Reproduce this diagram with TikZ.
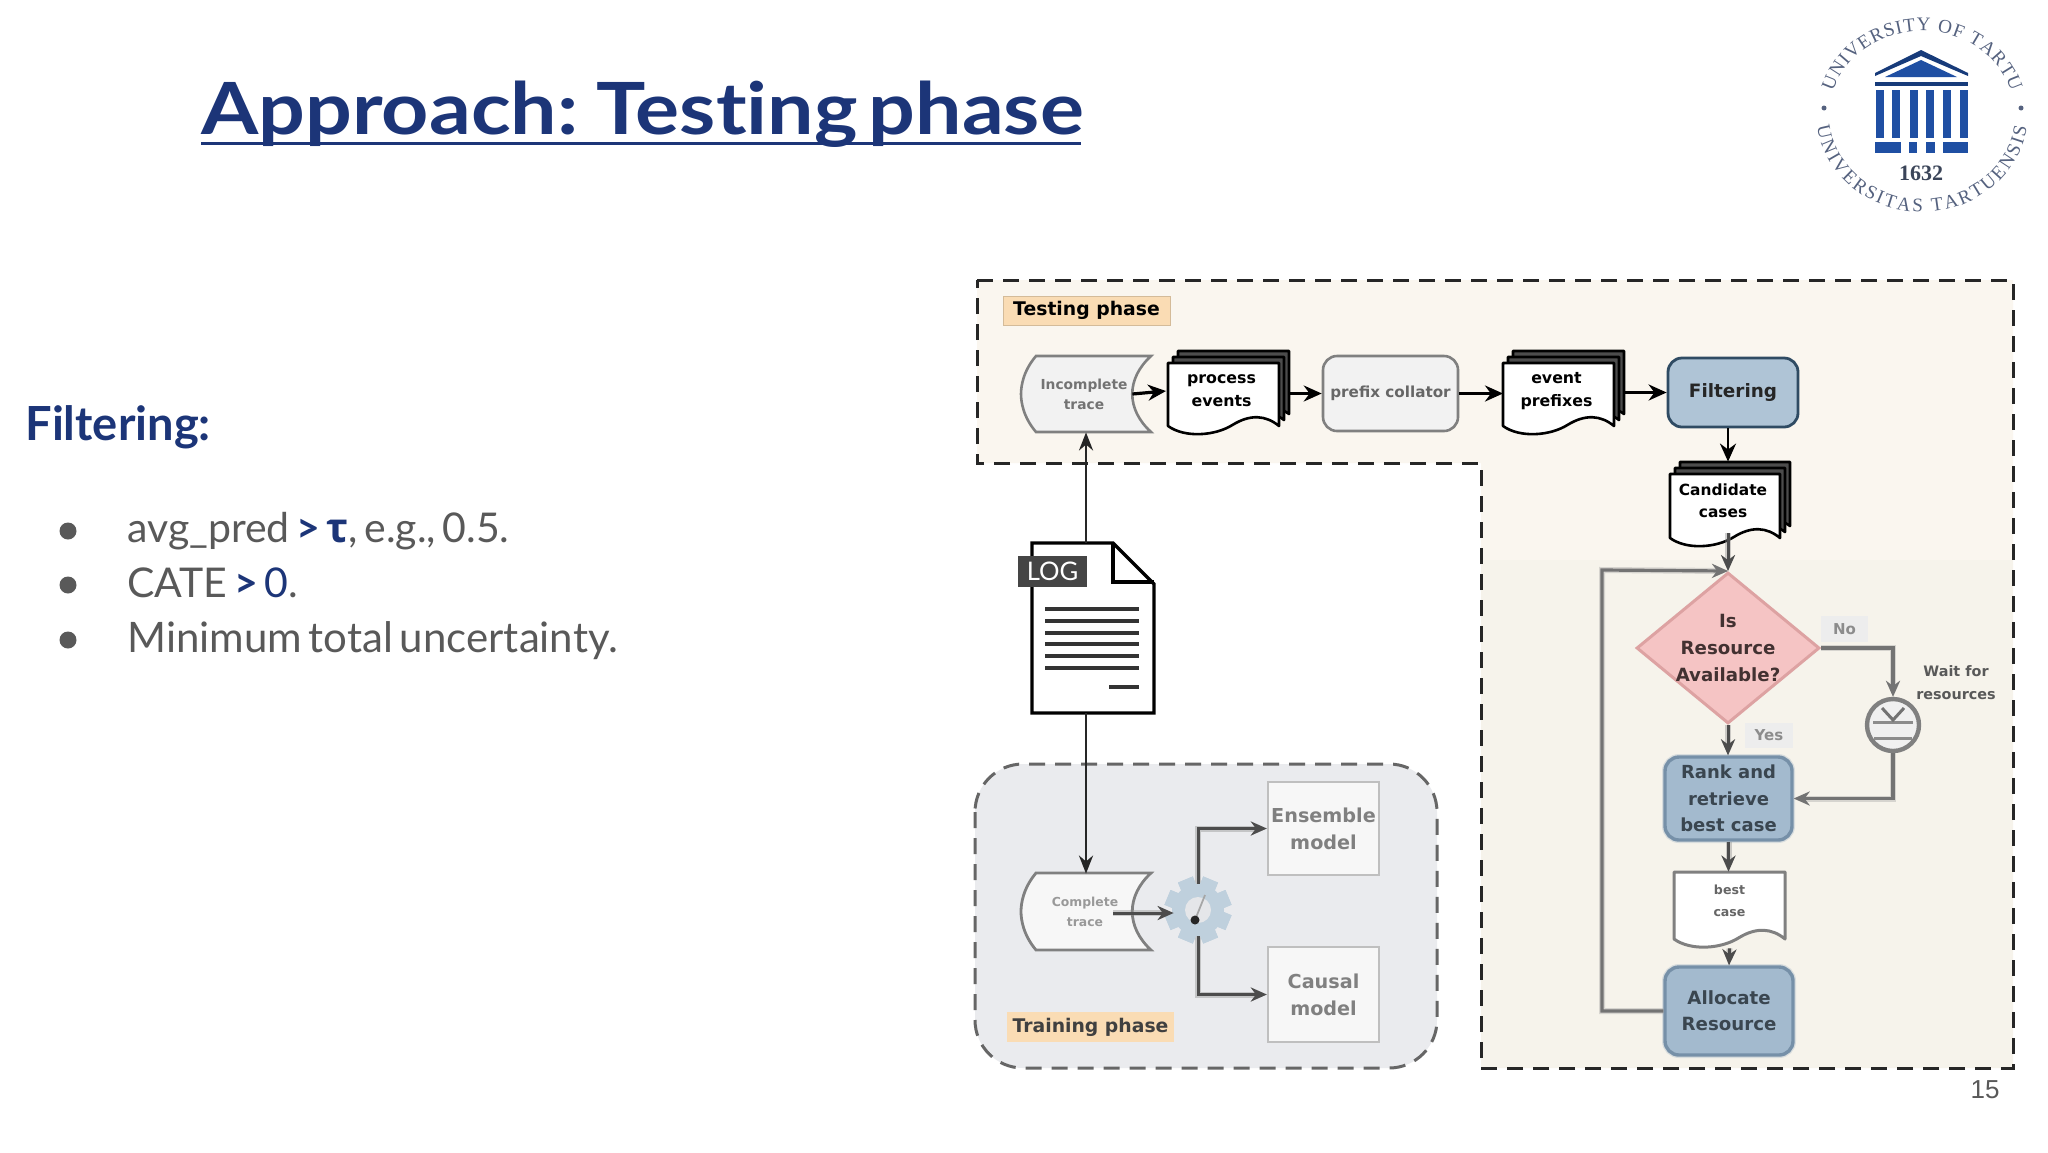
\documentclass[tikz,border=0pt]{standalone}
\usepackage{fontspec}
\setmainfont{DejaVu Sans}
\newfontfamily\latof{Lato}[WordSpace=0.62]
\newfontfamily\titlef{Lato}[FakeStretch=1.145,WordSpace=0.55,Ligatures=NoCommon]
\newfontfamily\greekf{Open Sans}
\newfontfamily\liber{Liberation Sans}
\newfontfamily\logof{Liberation Serif}
\usetikzlibrary{arrows.meta,decorations.text,shapes.geometric,calc}
\definecolor{navy}{HTML}{1C3578}
\definecolor{bodyg}{HTML}{595959}
\definecolor{regA}{HTML}{FAF6EF}
\definecolor{regB}{HTML}{F6F3EB}
\definecolor{trainbg}{HTML}{EAEBEE}
\definecolor{lab}{HTML}{FADCB4}
\definecolor{bluebox}{HTML}{AFC4D6}
\definecolor{gearc}{HTML}{BFD0DD}
\definecolor{blueboxb}{HTML}{2F4B63}
\definecolor{softblue}{HTML}{A3BACE}
\definecolor{softblueb}{HTML}{7690A8}
\definecolor{softtxt}{HTML}{3A4650}
\definecolor{pinkf}{HTML}{F5C4C4}
\definecolor{pinkb}{HTML}{DDA2A2}
\definecolor{logob}{HTML}{1F4FA3}
\definecolor{logot}{HTML}{55627F}
\newcommand{\fs}[1]{\fontsize{#1}{#1}\selectfont}
\newcommand{\fsb}[2]{\fontsize{#1}{#2}\selectfont}
\tikzset{
  txtnode/.style={inner sep=0pt,align=center,font=\bfseries\fsb{7.9}{11.5}},
  flow/.style={draw=black,line width=1.6pt,-{Stealth[length=9pt,width=8pt]}},
  thin flow/.style={draw=black!85,line width=1.4pt,-{Stealth[length=9pt,width=7pt]}},
  soft/.style={draw=black!70,line width=1.5pt,preaction={draw=black!45,line width=3pt,opacity=.4},-{Stealth[length=8pt,width=7pt]}},
  softg/.style={draw=black!55,line width=1.6pt,preaction={draw=black!35,line width=3pt,opacity=.4}},
  softgarrow/.style={softg,-{Stealth[length=8pt,width=7pt]}},
  region/.style={draw=black!85,line width=1.5pt,dash pattern=on 8pt off 5pt},
  docf/.style={draw=black,fill=white,line width=1.3pt,line join=round},
  blurbox/.style={draw=softblueb,fill=softblue,rounded corners=7pt,line width=1.7pt,preaction={draw=softblueb!60,line width=3pt,opacity=.4}},
  label box/.style={inner sep=0pt,fill=lab,draw=lab!85!black,line width=.3pt},
  bodyt/.style={anchor=base west,inner sep=0pt,text=bodyg,font=\latof\fs{20.5}},
  bul/.style={circle,fill=bodyg,inner sep=0pt,minimum size=8.5pt},
  pale/.style={inner sep=0pt,fill=black!7,text=black!45,font=\bfseries\fs{7.5}},
  model/.style={draw=black!25,fill=black!3,line width=1.2pt,minimum width=55.5pt,inner sep=0pt,align=center,text=black!50,font=\bfseries\fsb{9.6}{13.5}},
}
% wave-bottom document: x1,y1,x2,y2 (y2 = lowest point)
\newcommand{\wavepath}[4]{(#1,#2) -- (#3,#2) -- (#3,{#4-9})
  .. controls ({#3-0.12*(#3-#1)},{#4-20}) and ({#3-0.26*(#3-#1)},{#4-21}) .. ({#3-0.42*(#3-#1)},{#4-10})
  .. controls ({#3-0.58*(#3-#1)},{#4+1}) and ({#3-0.85*(#3-#1)},{#4+3}) .. (#1,{#4-9}) -- cycle}
\newcommand{\stackdoc}[4]{%
  \draw[docf,fill=black!70] \wavepath{#1+10}{#2-12}{#3+10}{#4-12};
  \draw[docf,fill=black!70] \wavepath{#1+5}{#2-6}{#3+5}{#4-6};
  \draw[docf] \wavepath{#1}{#2}{#3}{#4};}
\newcommand{\tapepath}[4]{({#1+15},#2) -- (#3,#2)
  .. controls ({#3-25},{#2+0.3*(#4-#2)}) and ({#3-25},{#2+0.7*(#4-#2)}) .. (#3,#4)
  -- ({#1+15},#4) .. controls ({#1+2},{#2+0.8*(#4-#2)}) and (#1,{#2+0.6*(#4-#2)}) .. (#1,{0.5*(#2+#4)})
  .. controls (#1,{#2+0.4*(#4-#2)}) and ({#1+2},{#2+0.2*(#4-#2)}) .. cycle}
\begin{document}
\begin{tikzpicture}[x=0.5pt,y=-0.5pt]
\useasboundingbox (0,0) rectangle (2048,1152);
\fill[white] (0,0) rectangle (2048,1152);

% title
\node[anchor=base west,inner sep=0pt,text=navy,font=\titlef\bfseries\fs{36}] (title) at (201,134.5) {Approach: Testing phase};
\draw[navy,line width=1.5pt] (title.base west |- 0,143) -- (1081,143);

% left text
\node[anchor=base west,inner sep=0pt,text=navy,font=\latof\bfseries\fs{23.5}] (filt head) at (25,440) {Filtering:};
\node[bul] (b1) at (68,531) {};
\node[bul] (b2) at (68,585) {};
\node[bul] (b3) at (68,640) {};
\node[bodyt] (t1) at (127,542.5) {avg\_pred \textcolor{navy}{\textbf{>} {\greekf\bfseries τ}}, e.g., 0.5.};
\node[bodyt] (t2) at (127,597.5) {CATE \textcolor{navy}{\textbf{>} 0}.};
\node[bodyt,font=\latof\fs{21}] (t3) at (127,652.5) {Minimum total uncertainty.};

% page number
\node[anchor=base,inner sep=0pt,text=black!65,font=\liber\fs{13}] (pg) at (1985,1098) {15};

% regions
\path[fill=regA] (977,280) -- (2013,280) -- (2013,1068) -- (1481,1068) -- (1481,463) -- (977,463) -- cycle;
\fill[regB] (1481,560) rectangle (2013,1068);
\draw[region] (977,280) -- (2013,280) -- (2013,1068) -- (1481,1068) -- (1481,463) -- (977,463) -- cycle;
\draw[region,draw=black!60,fill=trainbg,rounded corners=24pt] (975,764) rectangle (1437,1068);

\node[label box,minimum width=83.5pt,minimum height=14.5pt,font=\bfseries\fs{9.4}] (testing) at (1086.5,310.5) {Testing phase};
\node[label box,minimum width=83.5pt,minimum height=15pt,font=\bfseries\fs{9.4},text=black!75,draw=none] (training) at (1090.5,1027) {Training phase};

% top row shapes
\draw[draw=black!50,fill=black!5,line width=1.3pt] \tapepath{1021}{356}{1151}{432};
\node[txtnode,font=\bfseries\fsb{6.9}{10},text=black!55,minimum width=46pt,minimum height=38pt] (it) at (1084,394) {Incomplete\\trace};
\stackdoc{1168}{363}{1279}{435}
\node[txtnode,minimum width=55.5pt,minimum height=36pt] (pe) at (1221.5,391) {process\\events};
\node[draw=black!50,fill=black!5,rounded corners=7pt,line width=1.3pt,minimum width=67.5pt,minimum height=37.5pt,inner sep=0pt,text=black!60,font=\bfseries\fs{7.6}] (pc) at (1390.5,393.5) {prefix collator};
\stackdoc{1503}{363}{1614}{435}
\node[txtnode,minimum width=55.5pt,minimum height=36pt] (ep) at (1556.5,391) {event\\prefixes};
\node[draw=blueboxb,fill=bluebox,rounded corners=7pt,line width=1.4pt,minimum width=65pt,minimum height=34.5pt,inner sep=0pt,font=\bfseries\fs{9.2},text=black!85] (filt) at (1733,392.5) {Filtering};
\stackdoc{1670}{474}{1780}{547}
\node[txtnode,font=\bfseries\fsb{7.7}{11},minimum width=55pt,minimum height=36pt] (cc) at (1723,501) {Candidate\\cases};

% log document
\draw[draw=black,fill=white,line width=1.7pt,line join=miter] (1032,543) -- (1113,543) -- (1154,584) -- (1154,713) -- (1032,713) -- cycle;
\draw[draw=black,line width=1.7pt] (1113,543) -- (1113,582) -- (1154,582);
\node[inner sep=0pt,fill=black!73,minimum width=34.5pt,minimum height=15.5pt,text=white,font=\latof\fs{12.8}] (log) at (1052.5,571.5) {LOG};
\coordinate (logtop) at (1086,543);
\coordinate (logbot) at (1086,713);
\foreach \yy in {609,621,633,644,656,668}{\draw[black!80,line width=1.8pt] (1045,\yy) -- (1139,\yy);}
\draw[black!80,line width=1.8pt] (1109,687) -- (1139,687);

% training parts
\draw[draw=black!50,fill=black!3,line width=1.4pt] \tapepath{1021}{873}{1151}{950};
\node[txtnode,font=\bfseries\fsb{6.2}{10},text=black!40,minimum width=46pt,minimum height=38pt] (ct) at (1085,912) {Complete\\trace};
\node[model,minimum height=46.5pt] (ens) at (1323.5,828.5) {Ensemble\\model};
\node[model,minimum height=47.5pt] (cau) at (1323.5,994.5) {Causal\\model};
\node[circle,inner sep=0pt,minimum size=24pt] (gear) at (1198,910) {};
\draw[soft] (gear.north) -- (gear.north |- ens.west) -- (ens.west);
\draw[soft] (gear.south) -- (gear.south |- cau.west) -- (cau.west);
\foreach \a in {0,45,...,315}{\fill[gearc,rotate around={\a+22.5:(1198,910)}] (1190,877) rectangle (1206,943);}
\fill[gearc] (1198,910) circle[radius=26];
\fill[black!2!trainbg] (1198,910) circle[radius=13];
\draw[soft] ([xshift=-9pt]ct.east |- 0,913) -- (gear.west |- 0,913);
\draw[black!35,line width=.9pt] (1195,920) -- (1205,895);
\fill[black!85] (1195,920) circle[radius=4.5];

% connectors top
\draw[thin flow] (logtop) -- (logtop |- it.south);
\draw[thin flow] (logbot) -- (logbot |- ct.north);
\draw[flow] ([xshift=1pt]it.east) -- (pe.west -| 1166,0);
\draw[flow] (1290,0 |- pc.west) -- (pc.west);
\draw[flow] (pc.east) -- (1503,0 |- pc.east);
\draw[flow] (1624,0 |- filt.west) -- (filt.west);

% decision flow
\node[diamond,aspect=1.21,draw=pinkb,fill=pinkf,line width=1.5pt,minimum width=91.5pt,minimum height=75.5pt,inner sep=0pt] (dia) at (1728,648) {};
\node[inner sep=0pt,align=center,text=black!70!pinkb,font=\bfseries\fsb{9.1}{13.4}] (diat) at (dia.center) {Is\\Resource\\Available?};
\draw[flow,line width=1.3pt] (filt.south -| dia.north) -- ([yshift=1.5pt]cc.north -| dia.north);
\node[pale,minimum width=23.5pt,minimum height=13pt] (no) at (1844.5,629) {No};
\node[pale,minimum width=24pt,minimum height=12.5pt] (yes) at (1769,735.5) {Yes};
\node[inner sep=0pt,align=center,text=black!65,font=\bfseries\fsb{7.2}{11.5}] (wait) at (1956,683) {Wait for\\resources};
\node[circle,draw=black!50,fill=black!6,line width=2.2pt,minimum size=26pt,inner sep=0pt] (clock) at (1893,725) {};
\draw[black!45,line width=1.5pt] (1873,722) -- (1913,722);
\draw[black!45,line width=1.5pt] (1874,738) -- (1912,738);
\draw[black!55,line width=1.5pt] (1882,708) -- (1893,720) -- (1904,708);
\node[blurbox,minimum width=63.5pt,minimum height=41.5pt,inner sep=0pt,align=center,text=softtxt,font=\bfseries\fsb{9}{13.3}] (rank) at (1728.5,798.5) {Rank and\\retrieve\\best case};
\draw[draw=black!50,fill=white,line width=1.5pt,line join=round] \wavepath{1674}{872}{1785}{948};
\node[inner sep=0pt,minimum width=55.5pt,minimum height=38pt,align=center,text=black!60,font=\bfseries\fsb{6.3}{11}] (bc) at (1729.5,901) {best\\case};
\node[blurbox,minimum width=64pt,minimum height=44pt,inner sep=0pt,align=center,text=softtxt,font=\bfseries\fsb{9.1}{13}] (alloc) at (1729,1011) {Allocate\\Resource};
\coordinate (fbc) at (1602,570);
\coordinate (nocorner) at (1893,648);
\draw[soft] ([yshift=2pt]cc.south -| dia.north) -- (dia.north);
\draw[softgarrow] (alloc.west) -- (alloc.west -| fbc) -- (fbc) -- (dia.north);
\draw[softgarrow] (dia.east) -- (nocorner) -- (clock.north);
\draw[softgarrow] (clock.south) -- (clock.south |- rank.east) -- (rank.east);
\draw[soft] (dia.south) -- (dia.south |- rank.north);
\draw[soft] (rank.south) -- ([yshift=-4.5pt]rank.south |- bc.north);
\draw[soft] ([yshift=-4.5pt]bc.south) -- (alloc.north);

% logo
\begin{scope}[shift={(1922,113)},x=0.5pt,y=0.5pt]
  \path[decorate,decoration={text along path,text align={fit to path},
    text={|\logof\fs{9.6}\color{logot}|UNIVERSITY OF TARTU}}]
    ({92*cos(165)},{82*sin(165)}) arc[start angle=165,end angle=15,x radius=92,y radius=82];
  \path[decorate,decoration={text along path,text align={fit to path},
    text={|\logof\fs{9.6}\color{logot}|UNIVERSITAS TARTUENSIS}}]
    ({106*cos(188)},{99*sin(188)}) arc[start angle=188,end angle=352,x radius=106,y radius=99];
  \fill[logot] (-98,5) circle[radius=2.5];
  \fill[logot] (99,5) circle[radius=2.5];
\end{scope}
\fill[logob!75!black] (1921,50) -- (1968,73) -- (1968,76) -- (1921,56) -- (1875,76) -- (1875,73) -- cycle;
\fill[logob] (1921,60) -- (1957,77) -- (1885,77) -- cycle;
\fill[logob!75!black] (1875,82) rectangle (1968,86);
\foreach \cx in {1880,1896,1914,1930,1947,1964}{\fill[logob] (\cx-4,90) rectangle (\cx+4,138);}
\fill[logob] (1875,142) rectangle (1901,153);
\fill[logob] (1909,142) rectangle (1917,153);
\fill[logob] (1926,142) rectangle (1935,153);
\fill[logob] (1943,142) rectangle (1968,153);
\node[inner sep=0pt,text=logot!70!black,font=\logof\bfseries\fs{11}] (year) at (1921,173) {1632};
\end{tikzpicture}
\end{document}
